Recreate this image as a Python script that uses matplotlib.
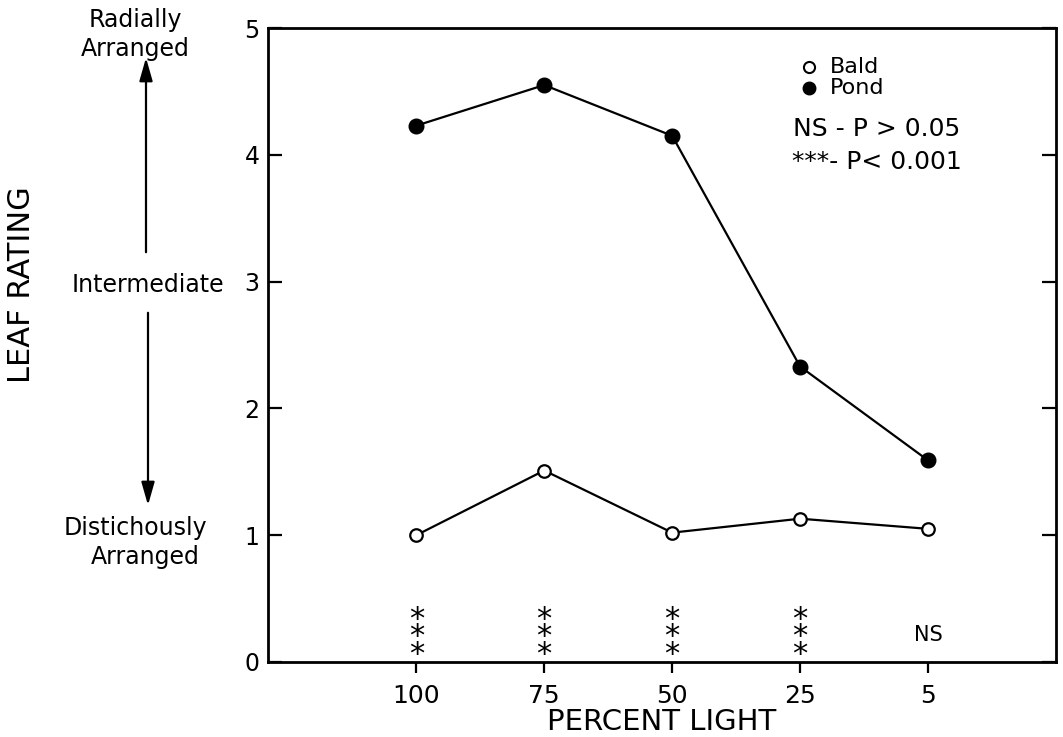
import matplotlib
matplotlib.use("Agg")
import matplotlib.pyplot as plt

categories = ["100", "75", "50", "25", "5"]
bald = [1.00, 1.51, 1.02, 1.13, 1.05]
pond = [4.23, 4.55, 4.15, 2.33, 1.59]
significance = ["***", "***", "***", "***", "NS"]
yticks = [0, 1, 2, 3, 4, 5]

plt.rcParams['font.family'] = ['DejaVu Sans']

fig = plt.figure(figsize=(10.63, 7.37), dpi=100)
ax = fig.add_axes([0.252, 0.1018, 0.7414, 0.8602])

x = list(range(len(categories)))
ax.plot(x, pond, '-', color='black', lw=1.6, marker='o', ms=10.5,
        mfc='black', mec='black', zorder=3)
ax.plot(x, bald, '-', color='black', lw=1.6, marker='o', ms=9,
        mfc='white', mec='black', mew=1.6, zorder=3)

ax.set_xlim(-1.16, 5.0)
ax.set_ylim(0, 5)
ax.set_xticks(x)
ax.set_xticklabels(categories, fontsize=18)
ax.set_yticks(yticks)
ax.set_yticklabels([str(v) for v in yticks], fontsize=17)
ax.tick_params(axis='x', direction='out', length=8, width=1.6, pad=8)
ax.tick_params(axis='y', direction='in', length=10, width=1.6, right=True, pad=6)
for s in ax.spines.values():
    s.set_linewidth(2)

ax.set_xlabel("PERCENT LIGHT", fontsize=21, labelpad=0)

# significance markers
for xi, s in zip(x, significance):
    if s == "NS":
        ax.text(xi, 0.21, "NS", ha='center', va='center', fontsize=15)
    else:
        ax.text(xi, 0.20, "*\n*\n*", ha='center', va='center', fontsize=22,
                linespacing=0.5)

# legend
ax.plot([3.07], [4.69], 'o', ms=8, mfc='white', mec='black', mew=1.5,
        clip_on=False)
ax.plot([3.07], [4.53], 'o', ms=9, mfc='black', mec='black', clip_on=False)
ax.text(3.23, 4.69, "Bald", fontsize=16, va='center', ha='left')
ax.text(3.23, 4.53, "Pond", fontsize=16, va='center', ha='left')
ax.text(3.6, 4.20, "NS - P > 0.05", fontsize=18, va='center', ha='center')
ax.text(3.6, 3.94, "***- P< 0.001", fontsize=18, va='center', ha='center')

# left annotation
fig.text(135/1063, 1 - 20/737, "Radially", fontsize=17, ha='center', va='center')
fig.text(135/1063, 1 - 49/737, "Arranged", fontsize=17, ha='center', va='center')
fig.text(148/1063, 1 - 285/737, "Intermediate", fontsize=17, ha='center', va='center')
fig.text(135/1063, 1 - 528/737, "Distichously", fontsize=17, ha='center', va='center')
fig.text(145/1063, 1 - 557/737, "Arranged", fontsize=17, ha='center', va='center')
fig.text(22/1063, 1 - 285/737, "LEAF RATING", fontsize=22, ha='center', va='center',
         rotation=90)

fig.add_artist(matplotlib.patches.FancyArrowPatch(
    (146/1063, 1 - 255/737), (146/1063, 1 - 55/737),
    transform=fig.transFigure, arrowstyle='-|>,head_length=14,head_width=4',
    color='black', lw=1.6, mutation_scale=1))
fig.add_artist(matplotlib.patches.FancyArrowPatch(
    (148/1063, 1 - 310/737), (148/1063, 1 - 508/737),
    transform=fig.transFigure, arrowstyle='-|>,head_length=14,head_width=4',
    color='black', lw=1.6, mutation_scale=1))

fig.savefig("out.png", dpi=100)
